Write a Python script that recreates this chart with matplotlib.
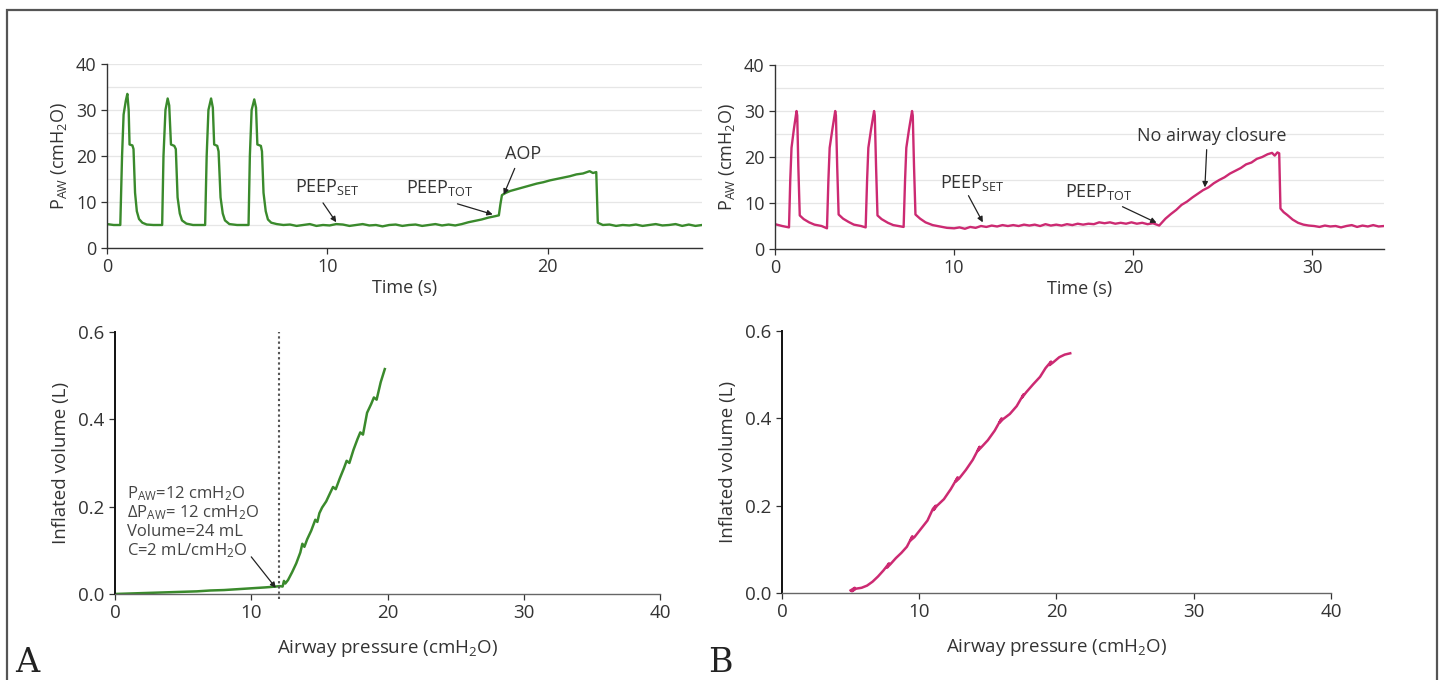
import matplotlib
matplotlib.use("Agg")
import matplotlib.pyplot as plt
from matplotlib.patches import Rectangle

plt.rcParams["font.family"] = ["Open Sans", "DejaVu Sans"]
plt.rcParams["mathtext.fontset"] = "custom"
plt.rcParams["mathtext.rm"] = "Open Sans"
plt.rcParams["mathtext.it"] = "Open Sans:italic"
plt.rcParams["mathtext.default"] = "regular"

GREEN = "#3a8a2c"
MAGENTA = "#cc2a72"
TXT = "#333333"

# --- panel A, airway pressure trace (s, cmH2O) ---
time_a = [0.0, 0.3, 0.6, 0.68, 0.75, 0.85, 0.92, 0.98, 1.02, 1.15, 1.2, 1.27, 1.35, 1.45, 1.6, 1.8, 2.1, 2.5,
          2.56, 2.65, 2.75, 2.82, 2.9, 3.05, 3.12, 3.2, 3.3, 3.4, 3.6, 3.9, 4.45,
          4.52, 4.6, 4.72, 4.8, 4.86, 5.0, 5.06, 5.15, 5.25, 5.35, 5.55, 5.9, 6.42,
          6.48, 6.56, 6.68, 6.76, 6.82, 6.98, 7.03, 7.1, 7.2, 7.3, 7.45, 7.7,
          8.0, 8.3, 8.6, 8.9, 9.2, 9.5, 9.8, 10.1, 10.4, 10.7, 11.0, 11.3, 11.6, 11.9, 12.2, 12.5,
          12.8, 13.1, 13.4, 13.7, 14.0, 14.3, 14.6, 14.9, 15.2, 15.5, 15.8, 16.1, 16.4, 16.7, 17.0,
          17.3, 17.6, 17.78, 17.85, 17.92, 18.1, 18.3, 18.6, 18.9, 19.2, 19.5, 19.8, 20.1, 20.4,
          20.7, 21.0, 21.3, 21.6, 21.9, 22.05, 22.2, 22.27, 22.5, 22.8, 23.1, 23.4, 23.7, 24.0,
          24.3, 24.6, 24.9, 25.2, 25.5, 25.8, 26.1, 26.4, 26.7, 27.0]
paw_a = [5.2, 5.0, 5.0, 20, 29, 32, 33.5, 30, 22.5, 22.3, 21.5, 12, 8, 6.3, 5.5, 5.1, 5.0, 5.0,
         20, 30, 32.5, 31, 22.5, 22.2, 21.5, 11, 7.5, 6, 5.3, 5.0, 5.0,
         20, 30, 32.5, 30.5, 22.5, 22.2, 21, 11, 7.5, 6, 5.2, 5.0, 5.0,
         20, 30, 32.3, 30.5, 22.5, 22.2, 21, 12, 8, 6.2, 5.5, 5.2,
         5.0, 5.1, 4.8, 5.0, 5.2, 4.8, 5.0, 4.9, 5.2, 5.1, 4.8, 5.0, 5.2, 4.9, 5.0, 4.7,
         5.0, 5.1, 4.8, 5.0, 5.1, 4.8, 5.0, 5.2, 4.9, 5.1, 4.9, 5.2, 5.6, 5.9, 6.2,
         6.6, 6.9, 7.1, 9.5, 11.5, 12.0, 12.4, 12.8, 13.2, 13.6, 14.0, 14.3, 14.7, 15.0,
         15.3, 15.6, 16.0, 16.2, 16.7, 16.3, 16.5, 5.5, 5.0, 5.1, 4.8, 5.0, 4.9, 5.1,
         4.8, 5.0, 5.2, 4.9, 5.0, 5.2, 4.8, 5.1, 4.8, 5.0]

# --- panel B, airway pressure trace (s, cmH2O) ---
time_b = [0.0, 0.4, 0.78, 0.85, 0.92, 1.05, 1.2, 1.24, 1.3, 1.38, 1.6, 1.9, 2.2, 2.6, 2.9,
          2.98, 3.05, 3.2, 3.36, 3.4, 3.47, 3.55, 3.8, 4.1, 4.4, 4.8, 5.06,
          5.14, 5.21, 5.36, 5.53, 5.57, 5.64, 5.72, 5.95, 6.3, 6.6, 6.9, 7.18,
          7.26, 7.33, 7.48, 7.65, 7.69, 7.76, 7.84, 8.1, 8.4, 8.8, 9.2, 9.6, 10.0, 10.3, 10.6,
          10.9, 11.2, 11.5, 11.8, 12.1, 12.4, 12.7, 13.0, 13.3, 13.6, 13.9, 14.2, 14.5, 14.8,
          15.1, 15.4, 15.7, 16.0, 16.3, 16.6, 16.9, 17.2, 17.5, 17.8, 18.1, 18.4, 18.7, 19.0,
          19.3, 19.6, 19.9, 20.2, 20.5, 20.8, 21.1, 21.3, 21.45, 21.8, 22.1, 22.4, 22.7, 23.0,
          23.3, 23.6, 23.9, 24.2, 24.5, 24.8, 25.1, 25.4, 25.7, 26.0, 26.3, 26.6, 26.9, 27.2,
          27.5, 27.75, 27.9, 28.05, 28.15, 28.22, 28.4, 28.6, 28.9, 29.2, 29.5, 29.8, 30.1,
          30.4, 30.7, 31.0, 31.3, 31.6, 31.9, 32.2, 32.5, 32.8, 33.1, 33.4, 33.7, 34.0]
paw_b = [5.4, 5.0, 4.7, 15, 22, 26, 30, 29, 18, 7.3, 6.5, 5.8, 5.3, 5.0, 4.5,
         15, 22, 26, 30, 29, 18, 7.5, 6.6, 5.9, 5.3, 5.0, 4.7,
         15, 22, 26, 30, 29, 18, 7.3, 6.5, 5.7, 5.2, 5.0, 4.8,
         15, 22, 26, 30, 29, 18, 7.5, 6.6, 5.8, 5.2, 4.9, 4.6, 4.5, 4.7, 4.4,
         4.8, 4.6, 5.0, 4.8, 5.1, 4.9, 5.2, 5.0, 5.2, 5.0, 5.3, 5.1, 5.3, 5.0,
         5.4, 5.1, 5.3, 5.1, 5.4, 5.2, 5.5, 5.3, 5.5, 5.4, 5.8, 5.6, 5.8, 5.5,
         5.7, 5.5, 5.8, 5.5, 5.7, 5.4, 5.6, 5.3, 5.1, 6.6, 7.6, 8.5, 9.6, 10.3,
         11.2, 12.0, 12.8, 13.4, 14.3, 15.0, 15.6, 16.4, 17.0, 17.6, 18.4, 18.8, 19.6, 20.0,
         20.6, 20.9, 20.3, 21.0, 20.8, 8.8, 8.0, 7.4, 6.4, 5.7, 5.3, 5.1, 5.0,
         4.8, 5.1, 4.9, 5.0, 4.7, 5.0, 5.2, 4.8, 5.1, 4.9, 5.2, 4.9, 5.0]

# --- pressure-volume curves (cmH2O, L) ---
pv_press_a = [0, 1, 2, 3, 4, 5, 6, 7, 8, 9, 10, 11, 11.8, 12.1, 12.3, 12.4, 12.5, 12.7, 13.0, 13.3,
              13.6, 13.75, 13.9, 14.1, 14.4, 14.7, 14.85, 15.0, 15.2, 15.5, 15.8, 16.0, 16.2, 16.5,
              16.8, 17.0, 17.2, 17.5, 17.8, 18.0, 18.2, 18.5, 18.8, 19.0, 19.2, 19.5, 19.8]
pv_vol_a = [0.0, 0.001, 0.002, 0.003, 0.004, 0.005, 0.006, 0.008, 0.009, 0.011, 0.013, 0.015, 0.017,
            0.018, 0.017, 0.03, 0.024, 0.032, 0.05, 0.07, 0.095, 0.115, 0.108, 0.125, 0.145, 0.17,
            0.165, 0.185, 0.198, 0.212, 0.232, 0.245, 0.24, 0.265, 0.288, 0.305, 0.3, 0.33, 0.355,
            0.37, 0.365, 0.415, 0.435, 0.45, 0.445, 0.485, 0.515]

pv_press_b = [5.0, 5.3, 5.1, 5.4, 5.8, 6.2, 6.6, 7.0, 7.4, 7.8, 7.65, 7.9, 8.3, 8.7, 9.1, 9.5, 9.35,
              9.65, 10.1, 10.6, 11.0, 11.2, 11.05, 11.3, 11.8, 12.3, 12.8, 12.65, 12.9, 13.4, 13.9,
              14.4, 14.25, 14.5, 15.0, 15.5, 16.0, 15.85, 16.1, 16.6, 17.1, 17.6, 17.5, 17.8, 18.3,
              18.8, 19.2, 19.6, 19.5, 19.75, 20.2, 20.6, 21.0]
pv_vol_b = [0.006, 0.012, 0.004, 0.01, 0.012, 0.017, 0.026, 0.038, 0.052, 0.068, 0.058, 0.066, 0.08,
            0.092, 0.106, 0.13, 0.12, 0.128, 0.146, 0.166, 0.193, 0.2, 0.19, 0.2, 0.215, 0.238,
            0.265, 0.255, 0.262, 0.282, 0.305, 0.335, 0.325, 0.333, 0.35, 0.372, 0.4, 0.39, 0.398,
            0.41, 0.428, 0.455, 0.448, 0.46, 0.478, 0.495, 0.515, 0.53, 0.522, 0.528, 0.54, 0.546,
            0.549]

aop_pressure = 12
arrow_kw = dict(arrowstyle="-|>", color="#222222", lw=0.9, mutation_scale=8, shrinkA=0, shrinkB=0)
NOTE_SIZE = 13


def style_axes(ax, size):
    for side in ["top", "right"]:
        ax.spines[side].set_visible(False)
    for side in ["left", "bottom"]:
        ax.spines[side].set_color("#333333")
        ax.spines[side].set_linewidth(1.0)
    ax.tick_params(colors="#333333", labelcolor=TXT, labelsize=size, length=4, width=0.9)


def pressure_trace(ax, t, p, color, xmax, xticks):
    ax.set_yticks(range(5, 41, 5), minor=True)
    ax.yaxis.grid(True, which="both", color="#e6e6e6", lw=0.9)
    ax.set_axisbelow(True)
    ax.plot(t, p, color=color, lw=1.7)
    ax.set_xlim(0, xmax)
    ax.set_ylim(0, 40)
    ax.set_xticks(xticks)
    ax.set_yticks([0, 10, 20, 30, 40])
    ax.tick_params(axis="y", which="minor", length=0)
    ax.set_xlabel("Time (s)", fontsize=13, color=TXT, labelpad=2)
    ax.set_ylabel(r"P$_{\mathrm{AW}}$ (cmH$_2$O)", fontsize=13, color=TXT, labelpad=5)
    style_axes(ax, 13)


def pv_curve(ax, x, y, color):
    ax.plot(x, y, color=color, lw=1.8)
    ax.set_xlim(0, 40)
    ax.set_ylim(0, 0.6)
    ax.set_xticks([0, 10, 20, 30, 40])
    ax.set_yticks([0.0, 0.2, 0.4, 0.6])
    ax.set_yticklabels(["0.0", "0.2", "0.4", "0.6"])
    ax.set_xlabel(r"Airway pressure (cmH$_2$O)", fontsize=13.5, color=TXT, labelpad=11)
    ax.set_ylabel("Inflated volume (L)", fontsize=13.5, color=TXT, labelpad=6)
    style_axes(ax, 13.5)
    ax.spines["left"].set_color("#111111")
    ax.spines["left"].set_linewidth(1.4)
    ax.spines["bottom"].set_color("#666666")


fig = plt.figure(figsize=(14.43, 6.8), dpi=100)
ax_ta = fig.add_axes([0.0742, 0.6353, 0.4123, 0.2706])
ax_tb = fig.add_axes([0.5371, 0.6338, 0.4220, 0.2706])
ax_ba = fig.add_axes([0.0797, 0.1265, 0.3777, 0.3853])
ax_bb = fig.add_axes([0.5419, 0.1279, 0.3805, 0.3853])

# panel A top
pressure_trace(ax_ta, time_a, paw_a, GREEN, 27, [0, 10, 20])
ax_ta.text(10.0, 13.2, r"PEEP$_{\mathrm{SET}}$", ha="center", va="center", fontsize=NOTE_SIZE, color=TXT)
ax_ta.annotate("", xy=(10.4, 5.6), xytext=(9.8, 9.8), arrowprops=arrow_kw)
ax_ta.text(15.1, 13.0, r"PEEP$_{\mathrm{TOT}}$", ha="center", va="center", fontsize=NOTE_SIZE, color=TXT)
ax_ta.annotate("", xy=(17.5, 7.3), xytext=(15.9, 9.6), arrowprops=arrow_kw)
ax_ta.text(18.9, 20.5, "AOP", ha="center", va="center", fontsize=NOTE_SIZE, color=TXT)
ax_ta.annotate("", xy=(18.0, 11.6), xytext=(18.5, 17.3), arrowprops=arrow_kw)

# panel B top
pressure_trace(ax_tb, time_b, paw_b, MAGENTA, 34, [0, 10, 20, 30])
ax_tb.text(11.0, 14.4, r"PEEP$_{\mathrm{SET}}$", ha="center", va="center", fontsize=NOTE_SIZE, color=TXT)
ax_tb.annotate("", xy=(11.6, 5.8), xytext=(10.8, 11.6), arrowprops=arrow_kw)
ax_tb.text(18.1, 12.4, r"PEEP$_{\mathrm{TOT}}$", ha="center", va="center", fontsize=NOTE_SIZE, color=TXT)
ax_tb.annotate("", xy=(21.3, 5.7), xytext=(19.4, 9.2), arrowprops=arrow_kw)
ax_tb.text(24.4, 24.6, "No airway closure", ha="center", va="center", fontsize=NOTE_SIZE, color=TXT)
ax_tb.annotate("", xy=(24.0, 13.4), xytext=(24.1, 21.6), arrowprops=arrow_kw)

# panel A bottom
pv_curve(ax_ba, pv_press_a, pv_vol_a, GREEN)
ax_ba.axvline(aop_pressure, ymin=-0.02, ymax=1.0, color="#555555", lw=1.5, ls=(0, (1.1, 1.4)),
              clip_on=False)
note_lines = [r"P$_{\mathrm{AW}}$=12 cmH$_2$O", r"ΔP$_{\mathrm{AW}}$= 12 cmH$_2$O",
              "Volume=24 mL", r"C=2 mL/cmH$_2$O"]
for i, line in enumerate(note_lines):
    ax_ba.text(0.9, 0.229 - i * 0.043, line, ha="left", va="center", fontsize=12, color="#444444")
ax_ba.annotate("", xy=(11.8, 0.014), xytext=(10.0, 0.085), arrowprops=arrow_kw)

# panel B bottom
pv_curve(ax_bb, pv_press_b, pv_vol_b, MAGENTA)

fig.text(0.0105, 0.012, "A", fontsize=24, family="DejaVu Serif", color="#222222")
fig.text(0.4905, 0.012, "B", fontsize=24, family="DejaVu Serif", color="#222222")

fig.patches.append(Rectangle((7 / 1443, -0.05), 1430 / 1443, 1 - 10 / 680 + 0.05,
                             transform=fig.transFigure, fill=False, edgecolor="#555555",
                             lw=1.6, clip_on=False))

fig.savefig("out.png", dpi=100)
